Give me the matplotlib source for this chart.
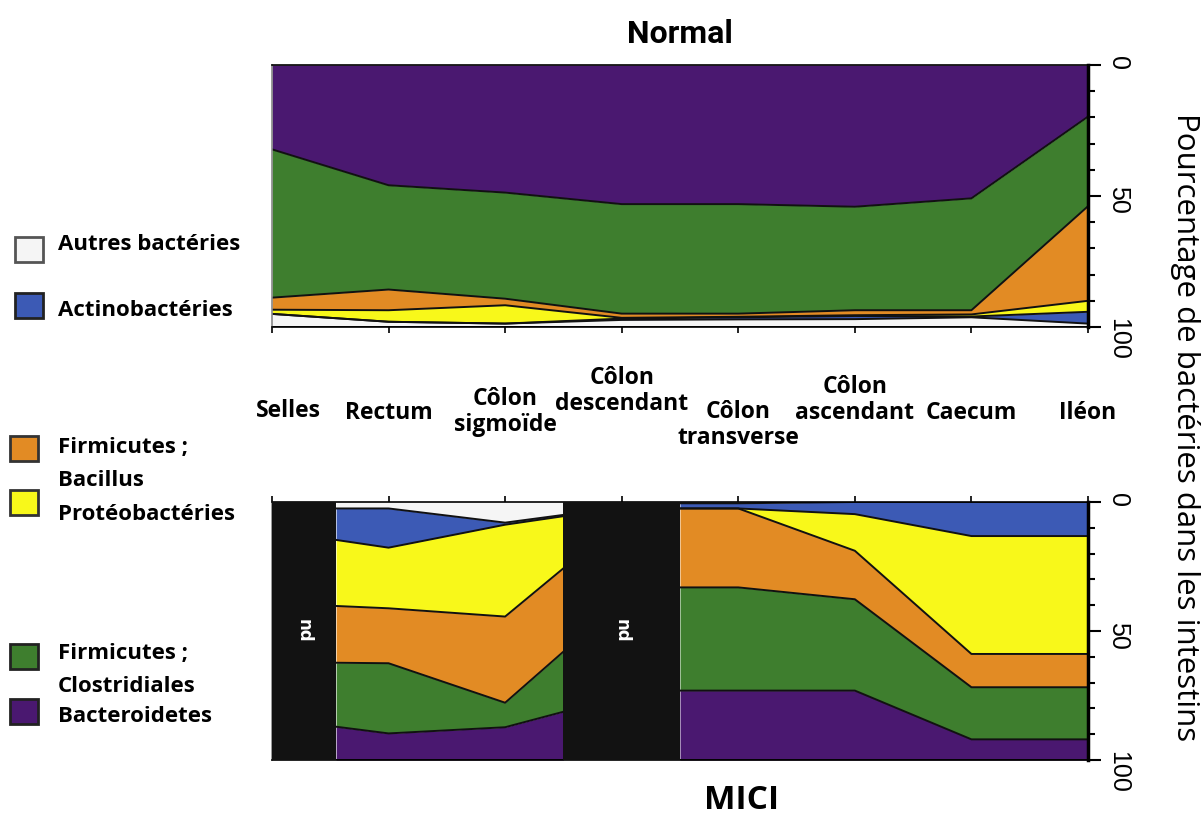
import numpy as np
import matplotlib.pyplot as plt
from matplotlib.patches import Rectangle
from matplotlib.transforms import blended_transform_factory

# sites along the gut
sites = ["Selles", "Rectum", "Côlon\nsigmoïde", "Côlon\ndescendant",
         "Côlon\ntransverse", "Côlon\nascendant", "Caecum", "Iléon"]

# Normal (%), stacked from 0 (top of the axis) downward
normal_bacteroidetes = [32.2, 45.9, 48.7, 53.1, 53.1, 54.1, 50.9, 19.7]
normal_clostridiales = [56.6, 39.8, 40.5, 41.8, 41.8, 39.5, 42.7, 34.2]
normal_bacillus = [4.6, 7.9, 2.5, 1.6, 1.2, 1.9, 1.6, 36.1]
normal_proteo = [1.6, 4.4, 7.0, 0.3, 0.2, 0.3, 0.8, 4.2]
normal_actino = [0.0, 0.0, 0.0, 0.5, 0.8, 1.2, 0.3, 4.5]
normal_autres = [5.0, 2.0, 1.3, 2.7, 2.9, 3.0, 3.7, 1.3]

# MICI (%), two measured stretches, stacked from 0 downward in reverse order
mici_x_a = [0.55, 1, 2, 2.5]
mici_autres_a = [2.5, 2.5, 8.0, 5.0]
mici_actino_a = [12.2, 15.2, 0.8, 0.5]
mici_proteo_a = [25.6, 23.5, 35.6, 20.2]
mici_bacillus_a = [22.0, 21.3, 33.4, 32.3]
mici_clostridiales_a = [24.8, 27.2, 9.5, 23.3]
mici_bacteroidetes_a = [12.9, 10.3, 12.7, 18.7]

mici_x_b = [3.5, 4, 5, 6, 7]
mici_autres_b = [0.5, 0.5, 0.0, 0.0, 0.0]
mici_actino_b = [2.0, 2.0, 4.7, 13.2, 13.2]
mici_proteo_b = [0.0, 0.0, 14.2, 45.7, 45.7]
mici_bacillus_b = [30.6, 30.6, 18.8, 12.9, 12.9]
mici_clostridiales_b = [40.0, 40.0, 35.4, 20.2, 20.2]
mici_bacteroidetes_b = [26.9, 26.9, 26.9, 8.0, 8.0]

# not determined stretches in MICI
nd_spans = [(0, 0.55), (2.5, 3.5)]

c_purple = "#4a1870"
c_green = "#3e7e2e"
c_orange = "#e28b24"
c_yellow = "#f8f81a"
c_blue = "#3c5ab5"
c_white = "#f5f5f5"

lab_font = "Open Sans"

fig = plt.figure(figsize=(12.01, 8.21), dpi=100)
ax1 = fig.add_axes([272/1201, 1-327/821, 816/1201, 262/821])
ax2 = fig.add_axes([272/1201, 1-760/821, 816/1201, 258/821])
over = fig.add_axes([0, 0, 1, 1], zorder=-1)
over.set_xlim(0, 1201)
over.set_ylim(821, 0)
over.axis("off")


def stack(ax, x, layers, colors):
    lo = np.zeros(len(x))
    for vals, col in zip(layers, colors):
        hi = lo + np.array(vals)
        ax.fill_between(x, lo, hi, color=col, lw=0)
        ax.plot(x, hi, color="#111111", lw=1.4)
        lo = hi


stack(ax1, range(len(sites)),
      [normal_bacteroidetes, normal_clostridiales, normal_bacillus,
       normal_proteo, normal_actino, normal_autres],
      [c_purple, c_green, c_orange, c_yellow, c_blue, c_white])

stack(ax2, mici_x_a,
      [mici_autres_a, mici_actino_a, mici_proteo_a, mici_bacillus_a,
       mici_clostridiales_a, mici_bacteroidetes_a],
      [c_white, c_blue, c_yellow, c_orange, c_green, c_purple])
stack(ax2, mici_x_b,
      [mici_autres_b, mici_actino_b, mici_proteo_b, mici_bacillus_b,
       mici_clostridiales_b, mici_bacteroidetes_b],
      [c_white, c_blue, c_yellow, c_orange, c_green, c_purple])
for a, b in nd_spans:
    ax2.axvspan(a, b, color="#121212", lw=0, zorder=3)
    ax2.text((a + b) / 2, 50, "nd", color="white", rotation=-90,
             ha="center", va="center", fontsize=12, fontweight="bold",
             family="DejaVu Sans", zorder=4)

for ax in (ax1, ax2):
    ax.set_xlim(0, len(sites) - 1)
    ax.set_ylim(100, 0)
    ax.set_xticks(range(len(sites)))
    ax.set_xticklabels([])
    ax.yaxis.tick_right()
    ax.set_yticks([0, 50, 100])
    ax.set_yticks(range(0, 101, 10), minor=True)
    ax.tick_params(axis="y", which="major", length=9, width=1.5,
                   labelsize=18, labelrotation=-90, pad=4)
    ax.tick_params(axis="y", which="minor", length=5, width=1.5)
    ax.tick_params(axis="x", length=4, width=1.2)
    for t in ax.get_yticklabels():
        t.set_family("Liberation Sans")
    for s in ax.spines.values():
        s.set_linewidth(1.2)
    ax.spines["right"].set_linewidth(2.5)
    ax.spines["left"].set_color("#888888")

ax2.xaxis.tick_top()

ax1.set_title("Normal", fontsize=23, fontweight="bold", family="Roboto", pad=16)
fig.text(742/1201, 1-800/821, "MICI", fontsize=24, fontweight="bold",
         family=lab_font, ha="center", va="center")
fig.text(1185/1201, 1-427/821, "Pourcentage de bactéries dans les intestins",
         rotation=-90, fontsize=22.5, family=lab_font, ha="center", va="center")

# site names between the two panels
tr = blended_transform_factory(ax1.transData, over.transData)
label_y = [411, 413, 412, 391, 425, 400, 413, 413]
label_dx = [0.14, 0, 0, 0, 0, 0, 0, 0]
for i, name in enumerate(sites):
    over.text(i + label_dx[i], label_y[i], name, transform=tr, ha="center",
              va="center", fontsize=16.5, fontweight="bold", family=lab_font,
              linespacing=1.1)

# legend
legend_items = [
    (c_white, 15, 237, [("Autres bactéries", 244)], "#555555"),
    (c_blue, 15, 293, [("Actinobactéries", 310)], "#222222"),
    (c_orange, 10, 436, [("Firmicutes ;", 448), ("Bacillus", 481)], "#333333"),
    (c_yellow, 10, 490, [("Protéobactéries", 514)], "#333333"),
    (c_green, 10, 644, [("Firmicutes ;", 653), ("Clostridiales", 686)], "#222222"),
    (c_purple, 10, 699, [("Bacteroidetes", 717)], "#222222"),
]
for col, x0, y0, texts, ec in legend_items:
    over.add_patch(Rectangle((x0, y0), 28, 25, facecolor=col, edgecolor=ec, lw=2))
    for txt, ty in texts:
        over.text(58, ty, txt, ha="left", va="center", fontsize=16,
                  fontweight="bold", family=lab_font)

fig.savefig("out.png", dpi=100)
